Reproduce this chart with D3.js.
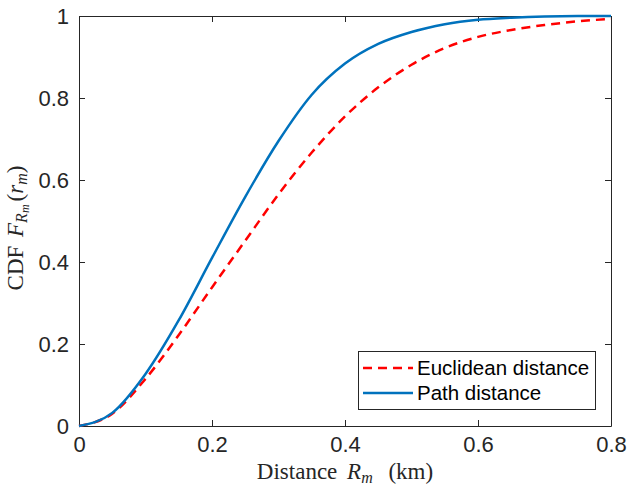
<!DOCTYPE html>
<html>
<head>
<meta charset="utf-8">
<script src="https://cdn.jsdelivr.net/npm/d3@7"></script>
<style>
  body { margin: 0; background: #fff; }
  svg { display: block; }
  .tick text { font-family: "Liberation Sans", Arial, sans-serif; font-size: 22px; fill: #262626; }
</style>
</head>
<body>
<div id="chart"></div>
<script>
const width = 629,
      height = 487;
const margin = { top: 16, right: 18, bottom: 61, left: 79 };

// distance grid (km) and CDF values
const distance = [0, 0.05, 0.1, 0.15, 0.2, 0.25, 0.3, 0.35, 0.4, 0.45, 0.5, 0.55, 0.6, 0.65, 0.7, 0.75, 0.8];
const euclidean = [0, 0.03, 0.115, 0.222, 0.338, 0.452, 0.565, 0.667, 0.755, 0.826, 0.881, 0.922, 0.949, 0.966, 0.978, 0.987, 0.993];
const pathDist = [0, 0.032, 0.127, 0.258, 0.41, 0.559, 0.695, 0.808, 0.884, 0.932, 0.961, 0.98, 0.991, 0.996, 0.999, 1, 1];

const xTicks = [0, 0.2, 0.4, 0.6, 0.8];
const yTicks = [0, 0.2, 0.4, 0.6, 0.8, 1];

const seriesNames = ["Euclidean distance", "Path distance"];

const x = d3.scaleLinear().domain([0, 0.8]).range([margin.left, width - margin.right]);
const y = d3.scaleLinear().domain([0, 1]).range([height - margin.bottom, margin.top]);

const svg = d3.select("#chart")
  .append("svg")
    .attr("width", width)
    .attr("height", height);

const axisColor = "#262626";

// axes with inward ticks, mirrored on top/right
const gBottom = svg.append("g")
  .attr("transform", `translate(0,${y(0)})`)
  .call(d3.axisBottom(x).tickValues(xTicks).tickSizeInner(-6).tickSizeOuter(0).tickPadding(16).tickFormat(d3.format("")));
const gLeft = svg.append("g")
  .attr("transform", `translate(${x(0)},0)`)
  .call(d3.axisLeft(y).tickValues(yTicks).tickSizeInner(-6).tickSizeOuter(0).tickPadding(10).tickFormat(d3.format("")));
const gTop = svg.append("g")
  .attr("transform", `translate(0,${y(1)})`)
  .call(d3.axisTop(x).tickValues(xTicks).tickSizeInner(-6).tickSizeOuter(0).tickFormat(""));
const gRight = svg.append("g")
  .attr("transform", `translate(${x(0.8)},0)`)
  .call(d3.axisRight(y).tickValues(yTicks).tickSizeInner(-6).tickSizeOuter(0).tickFormat(""));

[gBottom, gLeft, gTop, gRight].forEach(g => {
  g.select(".domain").attr("stroke", axisColor);
  g.selectAll(".tick line").attr("stroke", axisColor);
});
gBottom.selectAll(".tick text").attr("dy", "0.45em");

const line = d3.line()
  .x((d, i) => x(distance[i]))
  .y(d => y(d))
  .curve(d3.curveMonotoneX);

svg.append("path")
  .datum(euclidean)
  .attr("fill", "none")
  .attr("stroke", "#FF0000")
  .attr("stroke-width", 2.5)
  .attr("stroke-dasharray", "9,6")
  .attr("d", line);

svg.append("path")
  .datum(pathDist)
  .attr("fill", "none")
  .attr("stroke", "#0072BD")
  .attr("stroke-width", 2.5)
  .attr("d", line);

// axis labels (LaTeX style)
const labelFont = "'Liberation Serif', 'Times New Roman', serif";
const xl = svg.append("text")
  .attr("x", (x(0) + x(0.8)) / 2)
  .attr("y", 479)
  .attr("text-anchor", "middle")
  .style("font-family", labelFont)
  .style("font-size", "23px")
  .attr("fill", axisColor);
xl.append("tspan").text("Distance ");
xl.append("tspan").attr("dx", 4).attr("font-style", "italic").text("R");
xl.append("tspan").attr("font-style", "italic").attr("font-size", "16px").attr("dy", 4).text("m");
xl.append("tspan").attr("dy", -4).attr("dx", 10).text(" (km)");

const yl = svg.append("text")
  .attr("transform", `translate(23,228) rotate(-90)`)
  .attr("text-anchor", "middle")
  .style("font-family", labelFont)
  .style("font-size", "23px")
  .attr("fill", axisColor);
yl.append("tspan").text("CDF ");
yl.append("tspan").attr("dx", 3).attr("font-style", "italic").text("F");
yl.append("tspan").attr("font-style", "italic").attr("font-size", "16px").attr("dy", 4).text("R");
yl.append("tspan").attr("font-style", "italic").attr("font-size", "12px").attr("dy", 2).text("m");
yl.append("tspan").attr("dy", -6).attr("dx", 3).text("(");
yl.append("tspan").attr("font-style", "italic").text("r");
yl.append("tspan").attr("font-style", "italic").attr("font-size", "16px").attr("dy", 4).text("m");
yl.append("tspan").attr("dy", -4).text(")");

// legend
const legend = svg.append("g").attr("transform", "translate(358,351)");
legend.append("rect")
  .attr("x", 0.5).attr("y", 0.5)
  .attr("width", 237).attr("height", 58)
  .attr("fill", "#fff")
  .attr("stroke", axisColor);
const styles = [
  { color: "#FF0000", dash: "9,6" },
  { color: "#0072BD", dash: null }
];
seriesNames.forEach((name, i) => {
  const yy = 17 + i * 25;
  legend.append("line")
    .attr("x1", 5).attr("x2", 55)
    .attr("y1", yy).attr("y2", yy)
    .attr("stroke", styles[i].color)
    .attr("stroke-width", 2.5)
    .attr("stroke-dasharray", styles[i].dash);
  legend.append("text")
    .attr("x", 59).attr("y", yy)
    .attr("dy", "0.35em")
    .style("font-family", "'Liberation Sans', Arial, sans-serif")
    .style("font-size", "20.5px")
    .attr("fill", "#000")
    .text(name);
});
</script>
</body>
</html>
